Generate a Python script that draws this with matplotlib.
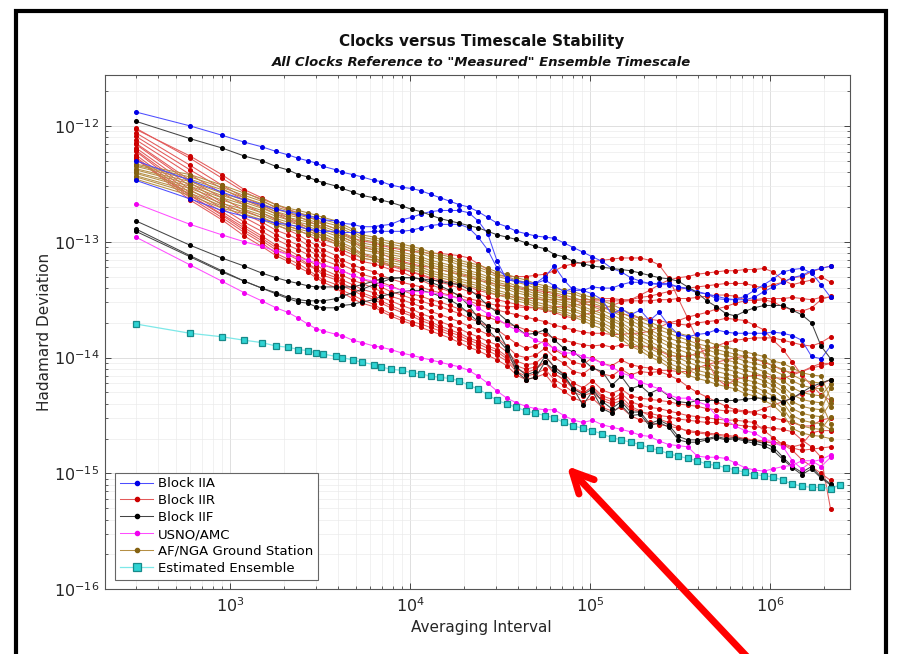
import numpy as np
import matplotlib
matplotlib.use("Agg")
import matplotlib.pyplot as plt
from matplotlib.lines import Line2D
from matplotlib.patches import Rectangle, FancyArrowPatch

plt.rcParams['font.family'] = ['DejaVu Sans']
plt.rcParams['mathtext.default'] = 'regular'

# averaging intervals (s)
taus = [300, 600, 900, 1200, 1500, 1800, 2100, 2400, 2700, 3000,
        3300, 3900, 4200, 4800, 5400, 6300, 6900, 7800, 9000, 10200,
        11500, 13000, 14700, 16600, 18800, 21200, 23900, 27000, 30500, 34500,
        39000, 44000, 49700, 56100, 63400, 71600, 80900, 91400, 103000, 117000,
        132000, 149000, 168000, 190000, 214000, 242000, 273000, 309000, 349000, 394000,
        445000, 503000, 568000, 641000, 725000, 818000, 924000, 1040000, 1180000, 1330000,
        1500000, 1700000, 1920000, 2170000]
taus_ens = taus + [2450000]

# log10 of Hadamard deviation
block_iia = [
    [-11.88, -12.00, -12.08, -12.14, -12.18, -12.22, -12.25, -12.28, -12.30, -12.32,
     -12.35, -12.38, -12.40, -12.42, -12.44, -12.47, -12.48, -12.51, -12.53, -12.54,
     -12.56, -12.59, -12.62, -12.65, -12.68, -12.70, -12.74, -12.79, -12.84, -12.87,
     -12.91, -12.93, -12.95, -12.96, -12.97, -13.01, -13.05, -13.09, -13.13, -13.17,
     -13.23, -13.26, -13.31, -13.34, -13.36, -13.36, -13.36, -13.39, -13.41, -13.44,
     -13.45, -13.49, -13.50, -13.50, -13.47, -13.42, -13.37, -13.32, -13.26, -13.24,
     -13.23, -13.27, -13.37, -13.48],
    [-12.30, -12.47, -12.57, -12.64, -12.68, -12.72, -12.74, -12.76, -12.78, -12.79,
     -12.81, -12.82, -12.84, -12.85, -12.87, -12.87, -12.86, -12.85, -12.81, -12.79,
     -12.76, -12.74, -12.73, -12.73, -12.73, -12.75, -12.82, -12.93, -13.17, -13.33,
     -13.34, -13.35, -13.36, -13.30, -13.21, -13.33, -13.42, -13.42, -13.39, -13.40,
     -13.40, -13.37, -13.35, -13.35, -13.36, -13.37, -13.37, -13.39, -13.40, -13.43,
     -13.45, -13.47, -13.49, -13.50, -13.50, -13.48, -13.43, -13.39, -13.35, -13.31,
     -13.29, -13.25, -13.23, -13.21],
    [-12.47, -12.63, -12.73, -12.78, -12.81, -12.84, -12.85, -12.87, -12.89, -12.90,
     -12.91, -12.91, -12.92, -12.92, -12.92, -12.91, -12.91, -12.91, -12.91, -12.90,
     -12.88, -12.86, -12.85, -12.85, -12.85, -12.88, -12.96, -13.07, -13.23, -13.31,
     -13.34, -13.36, -13.36, -13.33, -13.38, -13.43, -13.40, -13.42, -13.45, -13.50,
     -13.63, -13.58, -13.63, -13.59, -13.68, -13.61, -13.72, -13.80, -13.82, -13.80,
     -13.79, -13.76, -13.78, -13.79, -13.79, -13.79, -13.79, -13.78, -13.79, -13.81,
     -13.85, -13.99, -14.01, -13.90],
]

block_iir = [
    [-12.03, -12.26, -12.42, -12.55, -12.62, -12.68, -12.72, -12.75, -12.78, -12.81,
     -12.85, -12.89, -12.93, -12.97, -12.99, -13.01, -13.03, -13.05, -13.07, -13.08,
     -13.09, -13.10, -13.10, -13.11, -13.12, -13.14, -13.19, -13.24, -13.29, -13.30,
     -13.30, -13.30, -13.29, -13.28, -13.25, -13.21, -13.19, -13.18, -13.17, -13.16,
     -13.15, -13.14, -13.14, -13.14, -13.16, -13.20, -13.31, -13.49, -13.66, -13.85,
     -14.02, -14.18, -14.24, -14.19, -14.17, -14.15, -14.16, -14.17, -14.18, -14.15,
     -14.12, -14.09, -14.07, -14.05],
    [-12.06, -12.34, -12.51, -12.62, -12.68, -12.74, -12.79, -12.83, -12.88, -12.92,
     -12.96, -13.00, -13.03, -13.07, -13.10, -13.14, -13.17, -13.20, -13.23, -13.26,
     -13.29, -13.32, -13.35, -13.37, -13.40, -13.43, -13.45, -13.48, -13.50, -13.52,
     -13.54, -13.56, -13.57, -13.59, -13.61, -13.64, -13.66, -13.63, -13.61, -13.58,
     -13.55, -13.52, -13.50, -13.46, -13.42, -13.37, -13.33, -13.31, -13.30, -13.28,
     -13.27, -13.26, -13.25, -13.25, -13.24, -13.24, -13.23, -13.26, -13.33, -13.37,
     -13.35, -13.33, -13.30, -13.35],
    [-12.09, -12.38, -12.54, -12.64, -12.70, -12.76, -12.81, -12.85, -12.90, -12.94,
     -12.98, -13.02, -13.07, -13.11, -13.14, -13.16, -13.19, -13.21, -13.24, -13.26,
     -13.28, -13.31, -13.33, -13.35, -13.37, -13.39, -13.42, -13.44, -13.46, -13.47,
     -13.48, -13.49, -13.49, -13.50, -13.50, -13.50, -13.50, -13.50, -13.50, -13.49,
     -13.49, -13.50, -13.50, -13.48, -13.47, -13.45, -13.43, -13.41, -13.40, -13.39,
     -13.38, -13.37, -13.36, -13.36, -13.36, -13.38, -13.40, -13.37, -13.35, -13.31,
     -13.30, -13.26, -13.23, -13.21],
    [-12.12, -12.42, -12.58, -12.68, -12.75, -12.81, -12.86, -12.90, -12.94, -12.98,
     -13.02, -13.06, -13.10, -13.14, -13.17, -13.19, -13.21, -13.24, -13.26, -13.30,
     -13.33, -13.37, -13.40, -13.43, -13.46, -13.49, -13.51, -13.53, -13.55, -13.56,
     -13.56, -13.57, -13.57, -13.57, -13.56, -13.56, -13.55, -13.53, -13.51, -13.51,
     -13.51, -13.51, -13.51, -13.51, -13.51, -13.50, -13.50, -13.49, -13.49, -13.48,
     -13.47, -13.46, -13.46, -13.47, -13.50, -13.51, -13.50, -13.52, -13.56, -13.59,
     -13.60, -13.57, -13.50, -13.47],
    [-12.15, -12.47, -12.62, -12.73, -12.79, -12.85, -12.90, -12.94, -12.99, -13.03,
     -13.07, -13.12, -13.16, -13.20, -13.23, -13.26, -13.29, -13.32, -13.35, -13.37,
     -13.39, -13.42, -13.44, -13.46, -13.49, -13.51, -13.54, -13.56, -13.59, -13.61,
     -13.63, -13.65, -13.67, -13.69, -13.72, -13.74, -13.76, -13.78, -13.79, -13.79,
     -13.80, -13.80, -13.79, -13.79, -13.77, -13.74, -13.70, -13.68, -13.65, -13.63,
     -13.61, -13.58, -13.56, -13.53, -13.51, -13.50, -13.49, -13.49, -13.49, -13.48,
     -13.49, -13.50, -13.48, -13.48],
    [-12.16, -12.49, -12.66, -12.76, -12.83, -12.90, -12.94, -12.98, -13.03, -13.07,
     -13.11, -13.16, -13.20, -13.24, -13.28, -13.31, -13.35, -13.38, -13.42, -13.45,
     -13.47, -13.50, -13.52, -13.55, -13.58, -13.60, -13.63, -13.65, -13.68, -13.71,
     -13.73, -13.76, -13.78, -13.80, -13.83, -13.85, -13.87, -13.89, -13.90, -13.89,
     -13.91, -13.89, -13.90, -13.91, -13.90, -13.94, -13.98, -13.99, -13.99, -13.96,
     -13.93, -13.90, -13.87, -13.85, -13.84, -13.83, -13.83, -13.83, -13.85, -13.87,
     -13.89, -13.90, -13.87, -13.82],
    [-12.19, -12.52, -12.68, -12.79, -12.87, -12.94, -12.99, -13.03, -13.07, -13.11,
     -13.16, -13.20, -13.25, -13.29, -13.32, -13.36, -13.39, -13.43, -13.46, -13.49,
     -13.51, -13.54, -13.56, -13.59, -13.62, -13.66, -13.69, -13.73, -13.76, -13.82,
     -13.88, -13.92, -13.90, -13.85, -13.93, -13.98, -14.04, -14.06, -14.00, -14.05,
     -14.07, -14.02, -14.06, -14.08, -14.09, -14.11, -14.11, -14.12, -14.12, -14.09,
     -14.06, -14.04, -14.02, -14.00, -13.99, -14.01, -14.04, -14.07, -14.11, -14.13,
     -14.12, -14.08, -14.05, -14.05],
    [-12.21, -12.55, -12.71, -12.83, -12.91, -12.98, -13.03, -13.07, -13.11, -13.16,
     -13.20, -13.24, -13.29, -13.33, -13.36, -13.40, -13.43, -13.47, -13.50, -13.53,
     -13.56, -13.60, -13.63, -13.66, -13.69, -13.73, -13.76, -13.80, -13.83, -13.90,
     -13.98, -14.00, -13.98, -13.92, -14.00, -14.05, -14.12, -14.14, -14.08, -14.14,
     -14.16, -14.10, -14.15, -14.12, -14.13, -14.12, -14.15, -14.19, -14.25, -14.30,
     -14.34, -14.38, -14.42, -14.45, -14.46, -14.47, -14.44, -14.41, -14.38, -14.35,
     -14.31, -14.28, -14.23, -14.19],
    [-12.22, -12.58, -12.74, -12.86, -12.95, -13.03, -13.07, -13.12, -13.16, -13.20,
     -13.24, -13.29, -13.33, -13.37, -13.41, -13.44, -13.48, -13.51, -13.55, -13.58,
     -13.62, -13.65, -13.69, -13.72, -13.75, -13.79, -13.82, -13.86, -13.89, -13.95,
     -14.03, -14.06, -14.05, -13.98, -14.08, -14.14, -14.22, -14.26, -14.20, -14.28,
     -14.31, -14.27, -14.33, -14.35, -14.36, -14.37, -14.38, -14.40, -14.41, -14.42,
     -14.44, -14.45, -14.46, -14.46, -14.47, -14.48, -14.50, -14.52, -14.54, -14.56,
     -14.59, -14.59, -14.54, -14.52],
    [-12.25, -12.60, -12.77, -12.90, -12.99, -13.07, -13.11, -13.16, -13.20, -13.24,
     -13.29, -13.33, -13.38, -13.42, -13.46, -13.50, -13.53, -13.57, -13.61, -13.64,
     -13.68, -13.71, -13.75, -13.78, -13.81, -13.85, -13.88, -13.92, -13.95, -14.01,
     -14.10, -14.13, -14.10, -14.04, -14.14, -14.19, -14.27, -14.31, -14.25, -14.33,
     -14.36, -14.31, -14.38, -14.41, -14.43, -14.44, -14.46, -14.48, -14.50, -14.51,
     -14.52, -14.53, -14.54, -14.54, -14.55, -14.56, -14.63, -14.69, -14.75, -14.80,
     -14.88, -14.94, -15.00, -15.06],
    [-12.27, -12.62, -12.79, -12.92, -13.01, -13.10, -13.15, -13.19, -13.24, -13.29,
     -13.33, -13.37, -13.42, -13.46, -13.50, -13.54, -13.58, -13.62, -13.66, -13.69,
     -13.71, -13.74, -13.77, -13.80, -13.84, -13.87, -13.91, -13.94, -13.98, -14.03,
     -14.12, -14.16, -14.14, -14.10, -14.19, -14.24, -14.30, -14.33, -14.30, -14.37,
     -14.40, -14.37, -14.44, -14.47, -14.48, -14.50, -14.51, -14.53, -14.54, -14.55,
     -14.56, -14.56, -14.57, -14.58, -14.59, -14.60, -14.60, -14.61, -14.62, -14.64,
     -14.71, -14.77, -14.86, -15.31],
    [-12.28, -12.64, -12.81, -12.95, -13.04, -13.12, -13.17, -13.22, -13.26, -13.31,
     -13.35, -13.40, -13.44, -13.49, -13.53, -13.56, -13.60, -13.64, -13.68, -13.71,
     -13.74, -13.77, -13.80, -13.83, -13.87, -13.91, -13.94, -13.98, -14.02, -14.07,
     -14.15, -14.19, -14.17, -14.14, -14.24, -14.29, -14.35, -14.38, -14.35, -14.43,
     -14.46, -14.43, -14.50, -14.54, -14.56, -14.58, -14.59, -14.61, -14.63, -14.64,
     -14.65, -14.66, -14.67, -14.68, -14.70, -14.71, -14.72, -14.74, -14.75, -14.78,
     -14.80, -14.79, -14.78, -14.77],
    [-12.29, -12.60, -12.76, -12.88, -12.97, -13.05, -13.10, -13.14, -13.19, -13.23,
     -13.27, -13.31, -13.36, -13.40, -13.44, -13.48, -13.51, -13.55, -13.59, -13.62,
     -13.66, -13.69, -13.73, -13.76, -13.79, -13.83, -13.86, -13.90, -13.93, -13.99,
     -14.07, -14.10, -14.08, -14.04, -14.14, -14.19, -14.26, -14.30, -14.26, -14.35,
     -14.38, -14.34, -14.42, -14.46, -14.50, -14.53, -14.56, -14.60, -14.64, -14.65,
     -14.66, -14.67, -14.68, -14.69, -14.70, -14.72, -14.73, -14.73, -14.74, -14.77,
     -14.75, -14.65, -14.63, -14.63],
    [-12.02, -12.28, -12.45, -12.57, -12.64, -12.71, -12.75, -12.78, -12.82, -12.85,
     -12.89, -12.93, -12.96, -13.00, -13.04, -13.07, -13.10, -13.14, -13.17, -13.19,
     -13.21, -13.22, -13.24, -13.26, -13.28, -13.30, -13.33, -13.35, -13.37, -13.38,
     -13.39, -13.41, -13.42, -13.43, -13.45, -13.48, -13.50, -13.53, -13.55, -13.57,
     -13.59, -13.62, -13.64, -13.66, -13.67, -13.68, -13.70, -13.71, -13.72, -13.70,
     -13.69, -13.68, -13.66, -13.67, -13.68, -13.72, -13.76, -13.85, -13.93, -14.04,
     -14.15, -14.24, -14.32, -14.37],
]

block_iif = [
    [-11.96, -12.11, -12.19, -12.26, -12.30, -12.35, -12.38, -12.42, -12.44, -12.47,
     -12.49, -12.52, -12.54, -12.57, -12.60, -12.62, -12.64, -12.66, -12.69, -12.72,
     -12.74, -12.77, -12.80, -12.82, -12.84, -12.86, -12.88, -12.91, -12.94, -12.96,
     -12.98, -13.01, -13.04, -13.06, -13.11, -13.13, -13.17, -13.19, -13.21, -13.22,
     -13.23, -13.24, -13.25, -13.27, -13.29, -13.31, -13.32, -13.34, -13.39, -13.44,
     -13.51, -13.56, -13.62, -13.64, -13.60, -13.57, -13.55, -13.55, -13.55, -13.59,
     -13.63, -13.70, -13.90, -14.01],
    [-12.82, -13.03, -13.14, -13.21, -13.27, -13.31, -13.34, -13.36, -13.38, -13.39,
     -13.39, -13.39, -13.39, -13.39, -13.37, -13.34, -13.32, -13.31, -13.31, -13.31,
     -13.32, -13.33, -13.34, -13.36, -13.37, -13.41, -13.47, -13.55, -13.61, -13.68,
     -13.74, -13.80, -13.79, -13.76, -13.85, -13.92, -13.95, -14.02, -14.09, -14.12,
     -14.24, -14.16, -14.27, -14.24, -14.31, -14.27, -14.33, -14.38, -14.39, -14.37,
     -14.37, -14.37, -14.37, -14.37, -14.36, -14.35, -14.35, -14.35, -14.38, -14.35,
     -14.30, -14.25, -14.22, -14.19],
    [-12.89, -13.12, -13.25, -13.34, -13.40, -13.44, -13.48, -13.50, -13.51, -13.51,
     -13.51, -13.49, -13.47, -13.44, -13.41, -13.37, -13.35, -13.32, -13.31, -13.31,
     -13.32, -13.35, -13.38, -13.42, -13.47, -13.55, -13.66, -13.73, -13.76, -13.91,
     -14.08, -14.15, -14.12, -13.99, -14.08, -14.15, -14.27, -14.32, -14.27, -14.38,
     -14.44, -14.38, -14.47, -14.47, -14.57, -14.54, -14.58, -14.68, -14.71, -14.71,
     -14.70, -14.68, -14.70, -14.69, -14.71, -14.72, -14.74, -14.77, -14.86, -14.94,
     -14.99, -14.94, -15.03, -15.09],
    [-12.91, -13.13, -13.26, -13.34, -13.40, -13.45, -13.49, -13.52, -13.53, -13.56,
     -13.57, -13.57, -13.55, -13.54, -13.52, -13.50, -13.47, -13.45, -13.43, -13.42,
     -13.42, -13.44, -13.47, -13.50, -13.55, -13.62, -13.69, -13.76, -13.84, -13.93,
     -14.12, -14.19, -14.17, -14.04, -14.11, -14.16, -14.27, -14.41, -14.29, -14.44,
     -14.48, -14.41, -14.50, -14.49, -14.59, -14.56, -14.60, -14.71, -14.73, -14.73,
     -14.71, -14.69, -14.71, -14.70, -14.72, -14.74, -14.76, -14.80, -14.88, -14.95,
     -15.01, -14.96, -15.04, -15.10],
]

usno_amc = [
    [-12.67, -12.85, -12.94, -13.00, -13.04, -13.08, -13.11, -13.14, -13.16, -13.18,
     -13.20, -13.23, -13.25, -13.29, -13.32, -13.34, -13.37, -13.39, -13.42, -13.43,
     -13.43, -13.44, -13.45, -13.47, -13.49, -13.52, -13.57, -13.62, -13.66, -13.72,
     -13.76, -13.80, -13.85, -13.88, -13.92, -13.96, -13.96, -13.99, -14.01, -14.05,
     -14.08, -14.13, -14.16, -14.21, -14.24, -14.27, -14.32, -14.35, -14.35, -14.38,
     -14.41, -14.50, -14.54, -14.59, -14.63, -14.65, -14.70, -14.73, -14.77, -14.89,
     -14.96, -14.90, -14.88, -14.84],
    [-12.96, -13.20, -13.34, -13.44, -13.51, -13.57, -13.61, -13.66, -13.71, -13.75,
     -13.77, -13.80, -13.81, -13.85, -13.87, -13.90, -13.91, -13.93, -13.96, -13.98,
     -14.00, -14.02, -14.04, -14.06, -14.08, -14.11, -14.16, -14.22, -14.29, -14.35,
     -14.39, -14.42, -14.44, -14.45, -14.45, -14.50, -14.54, -14.56, -14.54, -14.58,
     -14.60, -14.62, -14.64, -14.67, -14.68, -14.72, -14.75, -14.76, -14.77, -14.85,
     -14.86, -14.86, -14.87, -14.91, -14.95, -14.97, -14.98, -14.96, -14.94, -14.93,
     -14.89, -14.89, -14.94, -14.86],
]

af_nga = [
    [-12.33, -12.42, -12.51, -12.58, -12.63, -12.68, -12.71, -12.73, -12.75, -12.77,
     -12.79, -12.82, -12.85, -12.89, -12.94, -12.96, -12.98, -13.00, -13.02, -13.04,
     -13.06, -13.09, -13.11, -13.13, -13.16, -13.18, -13.20, -13.23, -13.26, -13.28,
     -13.31, -13.33, -13.36, -13.38, -13.40, -13.42, -13.43, -13.46, -13.48, -13.51,
     -13.54, -13.58, -13.62, -13.66, -13.69, -13.73, -13.76, -13.79, -13.81, -13.84,
     -13.86, -13.89, -13.91, -13.93, -13.95, -13.97, -13.99, -14.03, -14.05, -14.09,
     -14.13, -14.15, -14.16, -14.36],
    [-12.34, -12.44, -12.53, -12.60, -12.65, -12.70, -12.73, -12.75, -12.77, -12.79,
     -12.81, -12.84, -12.87, -12.91, -12.96, -12.98, -13.00, -13.02, -13.04, -13.06,
     -13.08, -13.11, -13.13, -13.15, -13.18, -13.20, -13.22, -13.25, -13.28, -13.30,
     -13.33, -13.35, -13.38, -13.40, -13.42, -13.44, -13.45, -13.48, -13.51, -13.54,
     -13.57, -13.61, -13.65, -13.69, -13.72, -13.76, -13.79, -13.82, -13.85, -13.88,
     -13.90, -13.93, -13.95, -13.97, -13.99, -14.01, -14.03, -14.07, -14.10, -14.15,
     -14.19, -14.21, -14.22, -14.19],
    [-12.35, -12.46, -12.55, -12.62, -12.67, -12.72, -12.75, -12.77, -12.79, -12.81,
     -12.83, -12.86, -12.89, -12.93, -12.98, -13.00, -13.02, -13.04, -13.06, -13.08,
     -13.10, -13.13, -13.15, -13.17, -13.20, -13.22, -13.24, -13.27, -13.30, -13.32,
     -13.35, -13.37, -13.40, -13.42, -13.44, -13.46, -13.48, -13.51, -13.53, -13.56,
     -13.60, -13.64, -13.68, -13.72, -13.76, -13.80, -13.83, -13.86, -13.88, -13.91,
     -13.93, -13.96, -13.98, -14.00, -14.03, -14.05, -14.07, -14.11, -14.15, -14.20,
     -14.24, -14.26, -14.27, -14.43],
    [-12.37, -12.48, -12.58, -12.64, -12.69, -12.74, -12.77, -12.79, -12.81, -12.83,
     -12.85, -12.89, -12.92, -12.96, -13.01, -13.03, -13.05, -13.07, -13.09, -13.11,
     -13.13, -13.16, -13.18, -13.20, -13.23, -13.25, -13.27, -13.30, -13.33, -13.35,
     -13.38, -13.40, -13.43, -13.45, -13.47, -13.49, -13.50, -13.53, -13.56, -13.59,
     -13.63, -13.67, -13.71, -13.75, -13.79, -13.83, -13.87, -13.90, -13.92, -13.95,
     -13.97, -14.00, -14.02, -14.04, -14.07, -14.09, -14.12, -14.16, -14.20, -14.26,
     -14.30, -14.32, -14.33, -14.23],
    [-12.38, -12.50, -12.60, -12.66, -12.71, -12.76, -12.79, -12.81, -12.83, -12.85,
     -12.87, -12.91, -12.94, -12.98, -13.03, -13.05, -13.07, -13.09, -13.11, -13.13,
     -13.15, -13.18, -13.20, -13.22, -13.25, -13.27, -13.29, -13.32, -13.35, -13.37,
     -13.40, -13.42, -13.45, -13.47, -13.49, -13.51, -13.53, -13.56, -13.59, -13.62,
     -13.66, -13.70, -13.75, -13.79, -13.82, -13.86, -13.90, -13.93, -13.96, -13.99,
     -14.01, -14.04, -14.06, -14.08, -14.11, -14.13, -14.16, -14.20, -14.25, -14.32,
     -14.36, -14.38, -14.39, -14.57],
    [-12.40, -12.52, -12.62, -12.68, -12.73, -12.78, -12.81, -12.83, -12.85, -12.87,
     -12.89, -12.93, -12.96, -13.00, -13.05, -13.07, -13.09, -13.11, -13.13, -13.15,
     -13.17, -13.20, -13.22, -13.24, -13.27, -13.29, -13.31, -13.34, -13.37, -13.39,
     -13.42, -13.44, -13.47, -13.49, -13.51, -13.53, -13.55, -13.58, -13.61, -13.64,
     -13.68, -13.72, -13.78, -13.82, -13.86, -13.90, -13.94, -13.97, -14.00, -14.03,
     -14.05, -14.08, -14.10, -14.12, -14.15, -14.17, -14.20, -14.24, -14.29, -14.38,
     -14.42, -14.44, -14.45, -14.26],
    [-12.41, -12.54, -12.64, -12.70, -12.75, -12.80, -12.83, -12.85, -12.87, -12.89,
     -12.91, -12.95, -12.98, -13.02, -13.07, -13.09, -13.11, -13.13, -13.15, -13.17,
     -13.19, -13.22, -13.24, -13.26, -13.29, -13.31, -13.33, -13.36, -13.39, -13.41,
     -13.44, -13.46, -13.49, -13.51, -13.53, -13.55, -13.58, -13.61, -13.64, -13.67,
     -13.71, -13.75, -13.81, -13.85, -13.89, -13.93, -13.97, -14.00, -14.04, -14.07,
     -14.09, -14.12, -14.14, -14.16, -14.19, -14.21, -14.24, -14.28, -14.34, -14.44,
     -14.48, -14.50, -14.51, -14.39],
    [-12.43, -12.56, -12.67, -12.72, -12.77, -12.82, -12.85, -12.87, -12.89, -12.91,
     -12.93, -12.98, -13.01, -13.05, -13.10, -13.12, -13.14, -13.16, -13.18, -13.20,
     -13.22, -13.25, -13.27, -13.29, -13.32, -13.34, -13.36, -13.39, -13.42, -13.44,
     -13.47, -13.49, -13.52, -13.54, -13.56, -13.58, -13.60, -13.63, -13.67, -13.70,
     -13.74, -13.78, -13.84, -13.88, -13.92, -13.96, -14.01, -14.04, -14.08, -14.11,
     -14.13, -14.16, -14.18, -14.20, -14.23, -14.25, -14.29, -14.33, -14.39, -14.50,
     -14.54, -14.56, -14.57, -14.62],
    [-12.44, -12.58, -12.69, -12.74, -12.79, -12.84, -12.87, -12.89, -12.91, -12.93,
     -12.95, -13.00, -13.03, -13.07, -13.12, -13.14, -13.16, -13.18, -13.20, -13.22,
     -13.24, -13.27, -13.29, -13.31, -13.34, -13.36, -13.38, -13.41, -13.44, -13.46,
     -13.49, -13.51, -13.54, -13.56, -13.58, -13.60, -13.63, -13.66, -13.69, -13.72,
     -13.77, -13.81, -13.87, -13.91, -13.96, -14.00, -14.05, -14.08, -14.11, -14.14,
     -14.16, -14.19, -14.21, -14.23, -14.27, -14.29, -14.33, -14.37, -14.44, -14.55,
     -14.59, -14.61, -14.62, -14.51],
    [-12.46, -12.60, -12.71, -12.76, -12.81, -12.86, -12.89, -12.91, -12.93, -12.95,
     -12.97, -13.02, -13.05, -13.09, -13.14, -13.16, -13.18, -13.20, -13.22, -13.24,
     -13.26, -13.29, -13.31, -13.33, -13.36, -13.38, -13.40, -13.43, -13.46, -13.48,
     -13.51, -13.53, -13.56, -13.58, -13.60, -13.62, -13.65, -13.68, -13.72, -13.75,
     -13.80, -13.84, -13.90, -13.94, -13.99, -14.03, -14.08, -14.11, -14.15, -14.18,
     -14.20, -14.23, -14.25, -14.27, -14.31, -14.33, -14.37, -14.41, -14.49, -14.61,
     -14.65, -14.67, -14.68, -14.70],
]

ensemble = [-13.71, -13.79, -13.82, -13.85, -13.87, -13.90, -13.91, -13.93, -13.94, -13.96,
            -13.97, -13.99, -14.00, -14.02, -14.04, -14.06, -14.08, -14.10, -14.11, -14.13,
            -14.14, -14.16, -14.17, -14.18, -14.20, -14.24, -14.27, -14.32, -14.37, -14.40,
            -14.43, -14.46, -14.48, -14.50, -14.52, -14.56, -14.59, -14.61, -14.63, -14.66,
            -14.69, -14.71, -14.73, -14.75, -14.78, -14.80, -14.83, -14.85, -14.87, -14.89,
            -14.92, -14.93, -14.95, -14.97, -14.99, -15.01, -15.02, -15.03, -15.06, -15.09,
            -15.11, -15.12, -15.12, -15.13, -15.10]

labels = ["Block IIA", "Block IIR", "Block IIF", "USNO/AMC",
          "AF/NGA Ground Station", "Estimated Ensemble"]

fig = plt.figure(figsize=(8.99, 6.54), dpi=100)
ax = fig.add_axes([0.1168, 0.0989, 0.8287, 0.7864])

# line colour, marker colour
sty = {
    "iia": ("#4d4dff", "#0000e6"),
    "iir": ("#e35a5a", "#cc0000"),
    "iif": ("#454545", "#000000"),
    "usno": ("#ff4dff", "#f000f0"),
    "nga": ("#b58f45", "#846212"),
}

def draw(group, key, z):
    lc, mc = sty[key]
    for s in group:
        ax.plot(taus, 10.0 ** np.array(s), '-', color=lc, lw=0.75,
                marker='o', ms=2.6, mfc=mc, mec=mc, zorder=z)

draw(block_iir, "iir", 2.0)
draw(af_nga, "nga", 2.1)
draw(block_iia, "iia", 2.2)
draw(block_iif, "iif", 2.3)
draw(usno_amc, "usno", 2.4)
ax.plot(taus_ens, 10.0 ** np.array(ensemble), '-', color="#7de8e8", lw=0.9,
        marker='s', ms=5, mfc="#2fd3d3", mec="#178a8a", mew=0.9, zorder=2.5)

ax.set_xscale('log')
ax.set_yscale('log')
ax.set_xlim(202, 2.78e6)
ax.set_ylim(1e-16, 2.75e-12)
ax.set_xticks([1e3, 1e4, 1e5, 1e6])
ax.set_yticks([1e-16, 1e-15, 1e-14, 1e-13, 1e-12])

ax.grid(True, which='major', color='#d9d9d9', lw=0.6)
ax.grid(True, which='minor', color='#ebebeb', lw=0.5)
ax.set_axisbelow(True)
ax.tick_params(which='both', direction='in', top=True, right=True,
               color='#444444', labelsize=11.5, labelcolor='#262626')
ax.tick_params(which='major', length=4.5, width=0.7)
ax.tick_params(which='minor', length=2.5, width=0.6)
ax.tick_params(axis='x', pad=5)
ax.tick_params(axis='y', pad=4)
for sp in ax.spines.values():
    sp.set_color('#555555')
    sp.set_linewidth(0.8)

fig.text(0.536, 0.937, "Clocks versus Timescale Stability", ha='center', va='center',
         fontsize=11, fontweight='bold', color='#111111')
fig.text(0.536, 0.905, 'All Clocks Reference to "Measured" Ensemble Timescale',
         ha='center', va='center', fontsize=9.5, fontweight='bold', style='italic',
         color='#111111')
fig.text(0.535, 0.040, "Averaging Interval", ha='center', va='center',
         fontsize=11, color='#262626')
fig.text(0.050, 0.492, "Hadamard Deviation", ha='center', va='center',
         rotation=90, fontsize=11, color='#262626')

handles = []
for key in ["iia", "iir", "iif", "usno", "nga"]:
    lc, mc = sty[key]
    handles.append(Line2D([], [], color=lc, lw=0.75, marker='o', ms=3,
                          mfc=mc, mec=mc))
handles.append(Line2D([], [], color="#7de8e8", lw=0.9, marker='s', ms=5.5,
                      mfc="#2fd3d3", mec="#178a8a", mew=0.9))
leg = ax.legend(handles, labels, loc='lower left', bbox_to_anchor=(0.014, 0.019),
                borderaxespad=0, fontsize=9.5, handlelength=2.5, labelspacing=0.3,
                handletextpad=0.4, borderpad=0.35, fancybox=False, framealpha=1)
leg.get_frame().set_edgecolor('#666666')
leg.get_frame().set_linewidth(0.8)

# red call-out arrow
arrow = FancyArrowPatch((752 / 899, -8 / 654), (565 / 899, 190 / 654),
                        transform=fig.transFigure,
                        arrowstyle='->,head_length=1.5,head_width=0.75',
                        mutation_scale=10, color='#ff0000', lw=5, zorder=10)
fig.add_artist(arrow)

# frame round the picture
fig.add_artist(Rectangle((15.5 / 899, -0.05), 870 / 899, (654 - 10.5) / 654 + 0.05,
                         transform=fig.transFigure, fill=False, lw=3, ec='black'))

fig.savefig("out.png", dpi=100)
